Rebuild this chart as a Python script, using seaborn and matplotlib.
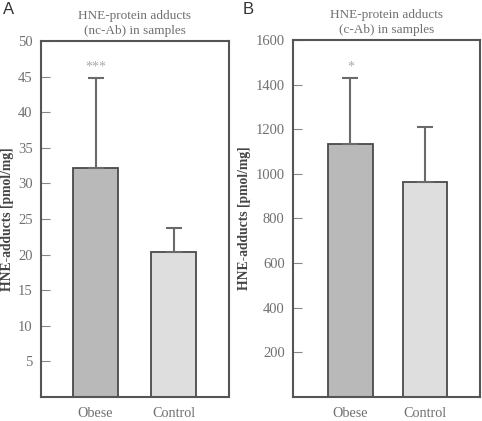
import matplotlib
matplotlib.use("Agg")
import matplotlib.pyplot as plt
import seaborn as sns
import numpy as np

groups = ["Obese", "Control"]
nc_means = [32.1, 20.4]
nc_errs = [12.7, 3.35]
c_means = [1134, 963]
c_errs = [296, 248]
nc_ticks = [5, 10, 15, 20, 25, 30, 35, 40, 45, 50]
c_ticks = [200, 400, 600, 800, 1000, 1200, 1400, 1600]
bar_colors = ["#b9b9b9", "#dedede"]
sig_a = "***"
sig_b = "*"

sns.set_theme(style="white")
plt.rcParams["font.family"] = ["Liberation Serif", "DejaVu Serif"]

fig = plt.figure(figsize=(4.82, 4.21), dpi=100)
axA = fig.add_axes([0.085, 0.0570, 0.39, 0.8456])
axB = fig.add_axes([0.608, 0.0570, 0.388, 0.848])

txt_col = "#707070"
spine_col = "#555555"

def draw(ax, means, errs, ticks, ymax, width, xlim, title, sig, sig_off):
    sns.barplot(x=groups, y=means, hue=groups, palette=bar_colors, ax=ax,
                width=width, edgecolor="#4a4a4a", linewidth=1.3, legend=False,
                saturation=1)
    xs = np.arange(len(groups))
    ax.errorbar(xs, means, yerr=[np.zeros(len(errs)), errs], fmt="none",
                ecolor="#6a6a6a", elinewidth=1.5, capsize=5.5, capthick=1.5)
    ax.set_ylim(0, ymax)
    ax.set_xlim(*xlim)
    ax.set_yticks(ticks)
    ax.set_yticklabels([str(t) for t in ticks])
    ax.tick_params(axis="y", direction="in", length=6.5, width=0.8,
                   color="#888888", left=True, labelsize=10.5,
                   labelcolor=txt_col, pad=6)
    ax.tick_params(axis="x", bottom=False, labelsize=10.2, labelcolor=txt_col, pad=1)
    for s in ax.spines.values():
        s.set_visible(True)
        s.set_color(spine_col)
        s.set_linewidth(1.5)
    ax.set_xlabel("")
    ax.set_ylabel("HNE-adducts [pmol/mg]", fontsize=9.8, fontweight="bold",
                  color="#444444")
    ax.set_title(title, fontsize=9.5, color=txt_col, pad=5, linespacing=1.35)
    ax.text(xs[0], means[0] + errs[0] + sig_off, sig, ha="center", va="bottom",
            fontsize=10, color="#aaaaaa")

draw(axA, nc_means, nc_errs, nc_ticks, 50, 0.577, (-0.70, 1.71),
     "HNE-protein adducts\n(nc-Ab) in samples", sig_a, 0.6)
draw(axB, c_means, c_errs, c_ticks, 1600, 0.6, (-0.77, 1.74),
     "HNE-protein adducts\n(c-Ab) in samples", sig_b, 20)

axA.yaxis.labelpad = 3
axB.yaxis.labelpad = 3

fig.text(0.006, 0.995, "A", ha="left", va="top", fontsize=12,
         family=["Liberation Sans", "DejaVu Sans"], color="#333333")
fig.text(0.504, 0.995, "B", ha="left", va="top", fontsize=12,
         family=["Liberation Sans", "DejaVu Sans"], color="#333333")

fig.savefig("out.png", dpi=100)
